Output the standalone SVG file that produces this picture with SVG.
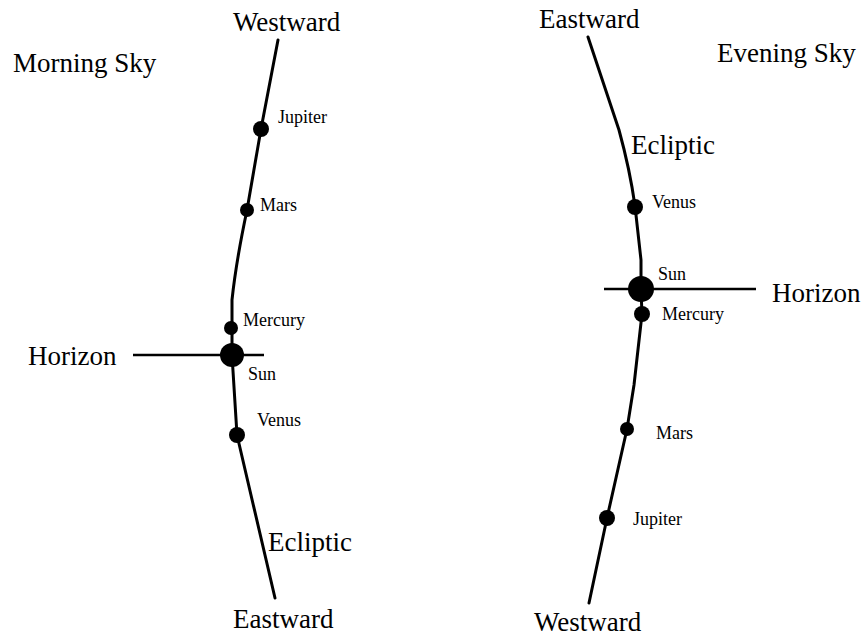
<svg xmlns="http://www.w3.org/2000/svg" width="868" height="638" viewBox="0 0 868 638">
<style>
.big{font-family:'Liberation Serif','DejaVu Serif',serif;font-size:27px;fill:#000}
.sm{font-family:'Liberation Serif','DejaVu Serif',serif;font-size:18px;fill:#000}
.ecl{fill:none;stroke:#000;stroke-width:3;stroke-linecap:round;stroke-linejoin:round}
.hor{fill:none;stroke:#000;stroke-width:2.5}
.dot{fill:#000}
</style>
<rect width="868" height="638" fill="#fff"/>
<g id="connectors">
<path class="ecl" d="M278,40 L261,129 L247,210 Q236,262 232,300 L232,355 L237,435 L275,598"/>
<line class="hor" x1="133" y1="355" x2="264" y2="355"/>
<path class="ecl" d="M588,37 L619,130 Q630,170 635,206 L641,260 L641,290 L642,314 L634,385 L627,429 L607,518 L589,603"/>
<line class="hor" x1="604" y1="289" x2="756" y2="289"/>
</g>
<g id="morning">
<text class="big" x="13" y="72">Morning Sky</text>
<text class="big" x="233" y="31">Westward</text>
<text class="big" x="233" y="628">Eastward</text>
<text class="big" x="28" y="365">Horizon</text>
<text class="big" x="268" y="551">Ecliptic</text>
</g>
<g id="m-jupiter"><circle class="dot" cx="261" cy="129" r="8"/><text class="sm" x="278" y="123">Jupiter</text></g>
<g id="m-mars"><circle class="dot" cx="247" cy="210" r="7"/><text class="sm" x="260" y="211">Mars</text></g>
<g id="m-mercury"><circle class="dot" cx="231" cy="328" r="7"/><text class="sm" x="243" y="326">Mercury</text></g>
<g id="m-sun"><circle class="dot" cx="232" cy="355" r="12"/><text class="sm" x="248" y="380">Sun</text></g>
<g id="m-venus"><circle class="dot" cx="237" cy="435" r="8"/><text class="sm" x="257" y="426">Venus</text></g>
<g id="evening">
<text class="big" x="717" y="62">Evening Sky</text>
<text class="big" x="539" y="28">Eastward</text>
<text class="big" x="534" y="631">Westward</text>
<text class="big" x="772" y="302">Horizon</text>
<text class="big" x="631" y="154">Ecliptic</text>
</g>
<g id="e-venus"><circle class="dot" cx="635" cy="207" r="8"/><text class="sm" x="652" y="208">Venus</text></g>
<g id="e-sun"><circle class="dot" cx="641" cy="289" r="13"/><text class="sm" x="658" y="280">Sun</text></g>
<g id="e-mercury"><circle class="dot" cx="642" cy="314" r="8"/><text class="sm" x="662" y="320">Mercury</text></g>
<g id="e-mars"><circle class="dot" cx="627" cy="429" r="7"/><text class="sm" x="656" y="439">Mars</text></g>
<g id="e-jupiter"><circle class="dot" cx="607" cy="518" r="8"/><text class="sm" x="633" y="525">Jupiter</text></g>
</svg>
